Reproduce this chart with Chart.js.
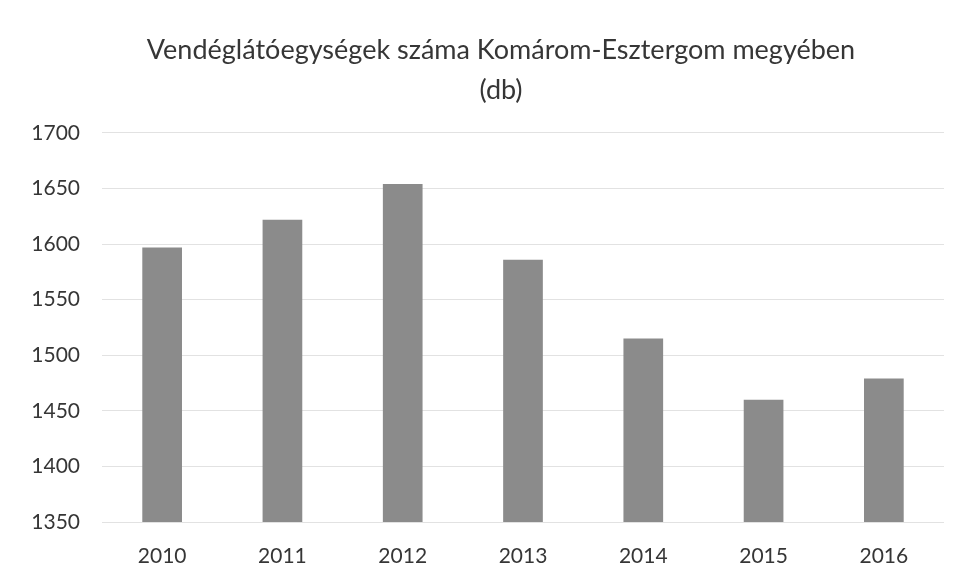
<!DOCTYPE html>
<html>
<head>
<meta charset="utf-8">
<script src="https://cdn.jsdelivr.net/npm/chart.js@4.4.1/dist/chart.umd.min.js"></script>
<style>
  html, body { margin: 0; padding: 0; background: #ffffff; }
  #wrap { width: 964px; height: 582px; }
</style>
</head>
<body>
<div id="wrap"><canvas id="myChart" width="964" height="582"></canvas></div>
<script>
// data
const years = ["2010", "2011", "2012", "2013", "2014", "2015", "2016"];
const unitCount = [1597, 1622, 1654, 1586, 1515, 1460, 1479];
const yMin = 1350;
const yMax = 1700;
const yStep = 50;
const titleLines = ["Vendéglátóegységek száma Komárom-Esztergom megyében", "(db)"];

const textColor = "#363636";
const fontFamily = "Lato, 'Open Sans', sans-serif";

// the title in the picture sits a bit right of the page centre
const shiftTitle = {
  id: "shiftTitle",
  afterLayout(chart) {
    if (chart.titleBlock) {
      chart.titleBlock.left = 58;
    }
  },
};

let ctx = document.getElementById("myChart").getContext("2d");
let myChart = new Chart(ctx, {
  type: "bar",
  data: {
    labels: years,
    datasets: [
      {
        label: "Vendéglátóegységek",
        data: unitCount,
        backgroundColor: "#8b8b8b",
        borderWidth: 0,
        barPercentage: 0.33,
        categoryPercentage: 1,
      },
    ],
  },
  plugins: [shiftTitle],
  options: {
    responsive: false,
    animation: false,
    layout: { padding: { left: 0, right: 20, top: 0, bottom: 14 } },
    plugins: {
      legend: { display: false },
      tooltip: { enabled: false },
      title: {
        display: true,
        text: titleLines,
        color: textColor,
        font: { family: fontFamily, size: 27, weight: "normal", lineHeight: 1.48 },
        padding: { top: 30, bottom: 23 },
      },
    },
    scales: {
      x: {
        grid: { display: false, drawTicks: false },
        border: { display: false },
        ticks: {
          color: textColor,
          font: { family: fontFamily, size: 21 },
          padding: 22,
        },
        afterFit: (scale) => {
          scale.height = 46;
        },
      },
      y: {
        min: yMin,
        max: yMax,
        border: { display: false },
        grid: { color: "#e2e2e2", lineWidth: 1, drawTicks: false },
        ticks: {
          stepSize: yStep,
          color: textColor,
          font: { family: fontFamily, size: 21 },
          padding: 22,
          callback: (value) => String(value),
        },
        afterFit: (scale) => {
          scale.width = 102;
        },
      },
    },
  },
});
</script>
</body>
</html>
